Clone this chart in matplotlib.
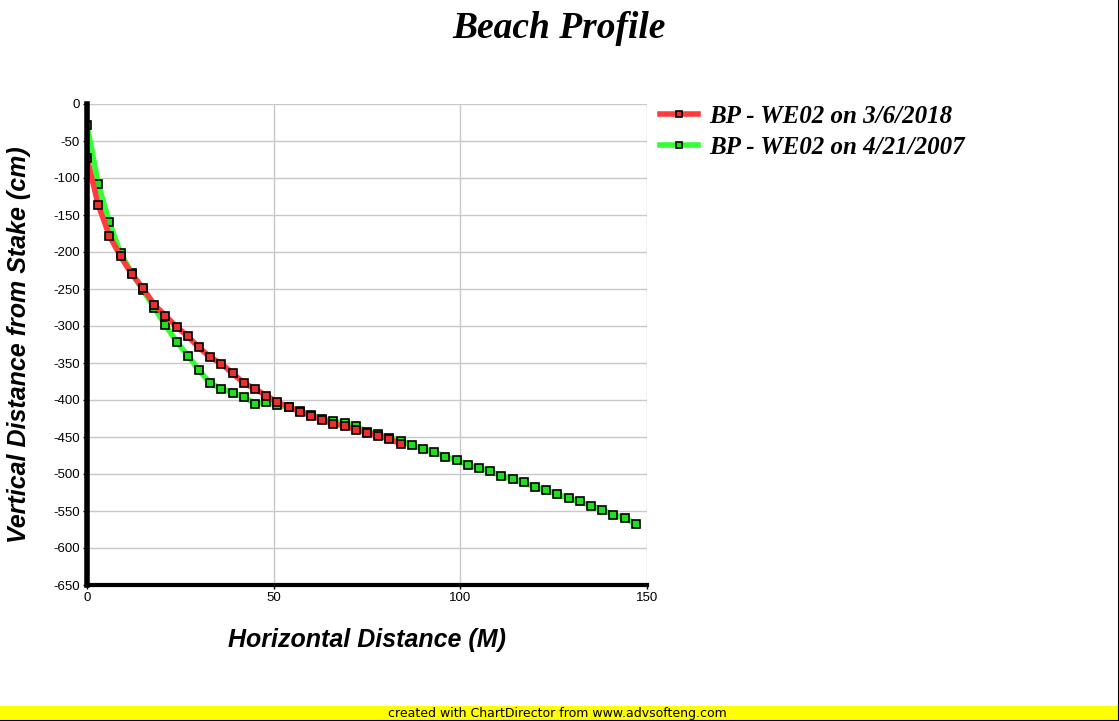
import matplotlib.pyplot as plt
from matplotlib.patches import Rectangle
from matplotlib.lines import Line2D

plt.rcParams['axes.unicode_minus'] = False

# Beach profile data (distance in m, depth in cm)
red_x = [0, 3, 6, 9, 12, 15, 18, 21, 24, 27, 30, 33, 36, 39, 42, 45, 48, 51,
         54, 57, 60, 63, 66, 69, 72, 75, 78, 81, 84]
red_y = [-73, -136, -178, -206, -230, -249, -271, -286, -301, -314, -329, -342,
         -351, -364, -377, -385, -394, -403, -409, -416, -421, -427, -432, -435,
         -440, -444, -448, -453, -459]

green_x = [0, 3, 6, 9, 12, 15, 18, 21, 24, 27, 30, 33, 36, 39, 42, 45, 48, 51,
           54, 57, 60, 63, 66, 69, 72, 75, 78, 81, 84, 87, 90, 93, 96, 99, 102,
           105, 108, 111, 114, 117, 120, 123, 126, 129, 132, 135, 138, 141, 144, 147]
green_y = [-28, -108, -160, -202, -228, -252, -275, -299, -321, -340, -360, -377,
           -385, -390, -396, -405, -403, -407, -410, -415, -420, -425, -429, -431,
           -435, -443, -446, -451, -455, -461, -466, -470, -477, -481, -488, -492,
           -496, -503, -507, -511, -518, -522, -527, -533, -537, -543, -548, -555,
           -559, -568]

red_label = 'BP - WE02 on 3/6/2018'
green_label = 'BP - WE02 on 4/21/2007'

fig = plt.figure(figsize=(11.19, 7.21), dpi=100)
ax = fig.add_axes([87 / 1119, 1 - 585 / 721, 560 / 1119, 481 / 721])

ax.plot(green_x, green_y, color='#33ff33', lw=4, marker='s', ms=5.5,
        mfc='#22dd22', mec='black', mew=1.2, zorder=3)
ax.plot(red_x, red_y, color='#ff3b3b', lw=4, marker='s', ms=5.5,
        mfc='#e83030', mec='black', mew=1.2, zorder=4)

ax.set_xlim(0, 150)
ax.set_ylim(-650, 0)
ax.set_xticks([0, 50, 100, 150])
ax.set_yticks(range(-650, 1, 50))
ax.grid(True, color='#c8c8c8', lw=1)
ax.set_axisbelow(True)
for s in ['top', 'right']:
    ax.spines[s].set_visible(False)
ax.spines['left'].set_linewidth(4)
ax.spines['bottom'].set_linewidth(3)
ax.spines['left'].set_zorder(5)
ax.tick_params(labelsize=9.5, length=3, width=1, pad=2)
for lbl in ax.get_xticklabels() + ax.get_yticklabels():
    lbl.set_family('Liberation Sans')

ax.set_xlabel('Horizontal Distance (M)', fontsize=18, fontweight='bold',
              style='italic', family='Liberation Sans', labelpad=17)
ax.set_ylabel('Vertical Distance from Stake (cm)', fontsize=18, fontweight='bold',
              style='italic', family='Liberation Sans', labelpad=16)

fig.text(0.5, 1 - 28 / 721, 'Beach Profile', ha='center', va='center',
         fontsize=27, fontweight='bold', style='italic', family='Liberation Serif')

handles = [Line2D([], [], color='#ff3b3b', lw=4, marker='s', ms=5, mfc='#e83030',
                  mec='black', mew=1.2),
           Line2D([], [], color='#33ff33', lw=4, marker='s', ms=5, mfc='#22dd22',
                  mec='black', mew=1.2)]
fig.legend(handles, [red_label, green_label], loc='upper left',
           bbox_to_anchor=(650 / 1119, 1 - 95 / 721), frameon=False,
           prop={'family': 'Liberation Serif', 'weight': 'bold', 'style': 'italic',
                 'size': 18},
           handlelength=1.5, handletextpad=0.45, labelspacing=0.32, borderaxespad=0)

# footer band
fig.patches.append(Rectangle((0, 0), 1, 15 / 721, transform=fig.transFigure,
                             facecolor='#ffff00', edgecolor='none', zorder=0))
fig.text(557 / 1119, 7 / 721, 'created with ChartDirector from www.advsofteng.com',
         ha='center', va='center', fontsize=9, family='Liberation Sans Narrow')
fig.add_artist(Line2D([0, 1, 1], [0.5 / 721, 0.5 / 721, 1], transform=fig.transFigure,
                      color='black', lw=1.5))

fig.savefig('out.png', dpi=100)
